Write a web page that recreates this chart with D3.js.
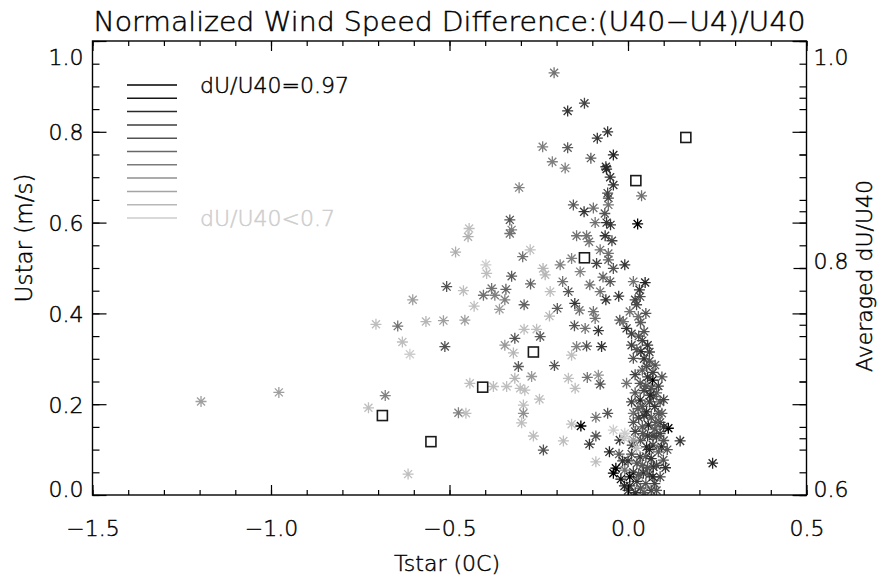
<!DOCTYPE html>
<html>
<head>
<meta charset="utf-8">
<script src="https://cdn.jsdelivr.net/npm/d3@7"></script>
<style>
  body { margin: 0; background: #fff; }
  svg { display: block; }
  svg text { font-weight: 200; stroke-width: 0.45px; }
</style>
</head>
<body>
<svg id="chart" width="878" height="581"></svg>
<script>
// Individual samples: [Tstar (C), Ustar (m/s), dU/U40]
const stars = [
  [-1.196,0.206,0.76],[-0.978,0.226,0.76],[-0.706,0.376,0.72],[-0.645,0.372,0.82],
  [-0.727,0.192,0.72],[-0.680,0.219,0.80],[-0.632,0.337,0.72],[-0.616,0.046,0.72],
  [-0.483,0.535,0.74],[-0.295,0.525,0.82],[-0.274,0.540,0.72],[-0.398,0.507,0.68],
  [-0.396,0.488,0.72],[-0.238,0.499,0.73],[-0.232,0.485,0.73],[-0.190,0.507,0.80],
  [-0.158,0.521,0.80],[-0.134,0.492,0.80],[-0.088,0.510,0.88],[-0.055,0.532,0.82],
  [-0.055,0.518,0.84],[-0.041,0.499,0.86],[-0.009,0.507,0.90],[-0.078,0.540,0.82],
  [-0.109,0.558,0.82],[-0.508,0.459,0.86],[-0.461,0.450,0.72],[-0.603,0.430,0.76],
  [-0.566,0.382,0.73],[-0.517,0.384,0.76],[-0.457,0.385,0.76],[-0.611,0.310,0.70],
  [-0.513,0.327,0.86],[-0.431,0.416,0.72],[-0.405,0.440,0.82],[-0.382,0.455,0.82],
  [-0.373,0.440,0.80],[-0.342,0.453,0.84],[-0.345,0.430,0.80],[-0.360,0.409,0.76],
  [-0.326,0.482,0.85],[-0.273,0.465,0.84],[-0.291,0.419,0.84],[-0.218,0.448,0.72],
  [-0.183,0.470,0.82],[-0.167,0.448,0.86],[-0.198,0.411,0.85],[-0.220,0.394,0.73],
  [-0.149,0.422,0.90],[-0.136,0.407,0.82],[-0.107,0.463,0.82],[-0.078,0.448,0.82],
  [-0.062,0.430,0.90],[-0.026,0.438,0.90],[-0.097,0.404,0.82],[-0.092,0.389,0.82],
  [-0.120,0.367,0.82],[-0.150,0.373,0.86],[-0.083,0.362,0.90],[-0.023,0.385,0.86],
  [-0.004,0.367,0.90],[-0.013,0.382,0.82],[0.015,0.470,0.82],[0.048,0.468,0.92],
  [0.032,0.452,0.90],[0.034,0.437,0.87],[0.024,0.419,0.87],[0.029,0.393,0.82],
  [0.005,0.404,0.82],[-0.317,0.345,0.86],[-0.345,0.330,0.77],[-0.291,0.365,0.72],
  [-0.256,0.365,0.72],[-0.246,0.349,0.85],[-0.321,0.313,0.73],[-0.307,0.283,0.85],
  [-0.206,0.285,0.86],[-0.158,0.308,0.72],[-0.144,0.327,0.80],[-0.116,0.328,0.86],
  [-0.074,0.327,0.90],[-0.317,0.257,0.73],[-0.270,0.261,0.77],[-0.443,0.246,0.72],
  [-0.377,0.239,0.72],[-0.340,0.239,0.72],[-0.302,0.235,0.72],[-0.289,0.231,0.72],
  [-0.248,0.211,0.72],[-0.167,0.257,0.72],[-0.148,0.235,0.72],[-0.114,0.259,0.82],
  [-0.083,0.264,0.78],[-0.078,0.244,0.86],[-0.475,0.181,0.80],[-0.454,0.180,0.72],
  [-0.293,0.198,0.72],[-0.293,0.180,0.78],[-0.298,0.159,0.72],[-0.265,0.130,0.72],
  [-0.237,0.099,0.86],[-0.181,0.119,0.72],[-0.158,0.156,0.72],[-0.132,0.152,0.97],
  [-0.090,0.171,0.82],[-0.057,0.180,0.86],[-0.108,0.112,0.90],[-0.090,0.130,0.86],
  [-0.090,0.073,0.72],[-0.052,0.095,0.92],[0.113,0.147,0.97],[0.146,0.119,0.90],
  [0.237,0.070,0.92],[0.069,0.253,0.97],[0.036,0.316,0.92],[0.015,0.301,0.86],
  [0.076,0.286,0.86],[0.052,0.283,0.87],[-0.004,0.246,0.82],[0.034,0.246,0.86],
  [0.071,0.217,0.86],[0.034,0.209,0.92],[0.015,0.180,0.82],[0.052,0.183,0.92],
  [0.085,0.180,0.86],[0.057,0.154,0.92],[0.080,0.128,0.86],[0.094,0.106,0.92],
  [0.099,0.077,0.86],[0.052,0.106,0.92],[-0.023,0.121,0.90],[0.034,0.084,0.90],
  [0.071,0.062,0.92],[0.043,0.048,0.90],[-0.009,0.055,0.82],
  [0.010,0.330,0.88],[0.025,0.320,0.86],[0.045,0.300,0.90],[0.060,0.295,0.86],
  [0.040,0.275,0.85],[0.020,0.265,0.88],[0.055,0.260,0.90],[0.065,0.235,0.86],
  [0.045,0.230,0.88],[0.020,0.225,0.86],[0.080,0.225,0.85],[0.060,0.205,0.88],
  [0.040,0.195,0.86],[0.075,0.195,0.90],[0.090,0.205,0.85],[0.030,0.170,0.88],
  [0.065,0.170,0.86],[0.090,0.160,0.88],[0.040,0.150,0.86],[0.075,0.145,0.85],
  [0.020,0.140,0.88],[0.055,0.130,0.90],[0.035,0.120,0.86],[0.070,0.110,0.88],
  [0.085,0.095,0.85],[0.010,0.090,0.88],[0.050,0.085,0.86],[0.065,0.080,0.90],
  [0.025,0.070,0.86],[0.080,0.065,0.88],[0.000,0.075,0.90],[0.040,0.065,0.85],
  [0.015,0.050,0.88],[0.060,0.045,0.86],[0.090,0.040,0.88],[0.025,0.030,0.90],
  [0.050,0.025,0.86],[0.075,0.025,0.88],[0.005,0.020,0.92],[0.035,0.015,0.86],
  [0.065,0.010,0.88],[0.000,0.010,0.88],[0.045,0.005,0.85],[0.100,0.120,0.86],
  [0.095,0.180,0.85],[0.050,0.240,0.86],[0.070,0.270,0.88],[0.030,0.350,0.86],
  [0.010,0.355,0.88],
  [0.040,0.340,0.88],[0.055,0.330,0.90],[0.045,0.360,0.86],[0.060,0.315,0.88],
  [0.035,0.380,0.85],[0.050,0.400,0.86],[0.020,0.430,0.88],
  [0.085,0.240,0.88],[0.095,0.260,0.86],[0.100,0.150,0.90],[0.110,0.100,0.86],
  [0.105,0.060,0.90],[0.080,0.010,0.86],[0.020,0.005,0.90],[-0.010,0.020,0.92],
  [-0.025,0.090,0.86],[0.012,0.110,0.90],[0.060,0.100,0.92],[0.045,0.175,0.90],
  [0.070,0.130,0.88],[0.028,0.190,0.85],[0.010,0.205,0.88],[0.062,0.220,0.92],
  [0.078,0.160,0.86],[0.042,0.135,0.86],[0.090,0.135,0.88],[0.030,0.045,0.86],
  [0.070,0.040,0.92],[0.055,0.060,0.86],[0.015,0.160,0.86],[0.100,0.210,0.88],
  [-0.050,0.470,0.86],[-0.045,0.560,0.88],[-0.065,0.620,0.86],[-0.050,0.700,0.90],
  [-0.070,0.480,0.84],
  [-0.041,0.143,0.70],[-0.009,0.136,0.70],[0.024,0.103,0.72],[0.015,0.121,0.76],
  [-0.010,0.125,0.70],
  [-0.020,0.035,0.95],[-0.015,0.075,0.90],[-0.034,0.059,0.97],[0.005,0.040,0.97],
  [-0.041,0.048,0.97],
  [-0.207,0.930,0.82],[-0.169,0.846,0.90],[-0.122,0.863,0.88],[-0.086,0.786,0.90],
  [-0.057,0.800,0.90],[-0.239,0.767,0.80],[-0.169,0.765,0.85],[-0.212,0.734,0.80],
  [-0.176,0.720,0.80],[-0.104,0.742,0.85],[-0.041,0.749,0.92],[-0.062,0.723,0.90],
  [-0.060,0.718,0.92],[-0.305,0.677,0.80],[-0.041,0.683,0.90],[0.038,0.659,0.82],
  [-0.057,0.665,0.88],[-0.055,0.654,0.88],[-0.055,0.639,0.82],[-0.153,0.639,0.85],
  [-0.123,0.624,0.90],[-0.097,0.632,0.82],[0.027,0.597,0.97],[-0.092,0.600,0.82],
  [-0.060,0.600,0.90],[-0.049,0.595,0.90],[-0.064,0.571,0.90],[-0.144,0.571,0.82],
  [-0.116,0.571,0.82],[-0.331,0.606,0.86],[-0.326,0.584,0.80],[-0.331,0.576,0.82],
  [-0.445,0.587,0.72],[-0.448,0.569,0.74]
];

// Tstar bin centres and the mean dU/U40 in each bin (right-hand axis)
const binTstar = [-0.688, -0.552, -0.407, -0.265, -0.122, 0.022, 0.162];
const binAvgRatio = [0.670, 0.647, 0.695, 0.726, 0.809, 0.877, 0.915];

// Grey-level key, darkest to lightest
const legendLevels = [0.97, 0.943, 0.916, 0.889, 0.862, 0.835, 0.808, 0.781, 0.754, 0.727, 0.70];
const legendLabels = ["dU/U40=0.97", "dU/U40<0.7"];

const xMajor = [-1.5, -1.0, -0.5, 0.0, 0.5];
const yMajor = [0.0, 0.2, 0.4, 0.6, 0.8, 1.0];
const rMajor = [0.6, 0.8, 1.0];

const titleText = "Normalized Wind Speed Difference:(U40\u2212U4)/U40";
const xTitle = "Tstar (0C)";
const yTitle = "Ustar (m/s)";
const rTitle = "Averaged dU/U40";

// ---- layout ----
const L = 92.5, R = 806.5, T = 41, B = 495;
const FONT = "'DejaVu Sans', sans-serif";

const svg = d3.select("#chart");

const x = d3.scaleLinear().domain([-1.5, 0.5]).range([L, R]);
const y = d3.scaleLinear().domain([0, 1]).range([B, T]);
const yR = d3.scaleLinear().domain([0.6, 1.0]).range([B, T]);

const shade = d3.scaleLinear().domain([0.70, 0.97]).range([205, 0]).clamp(true);
const grey = v => { const g = Math.round(shade(v)); return `rgb(${g},${g},${g})`; };

const xMinor = d3.range(0, 21).map(i => -1.5 + i * 0.1);
const yMinor = d3.range(0, 21).map(i => i * 0.05);
const rMinor = d3.range(0, 9).map(i => 0.6 + i * 0.05);

// ---- clipped plotting area ----
svg.append("clipPath").attr("id", "plotClip")
  .append("rect").attr("x", L).attr("y", T).attr("width", R - L).attr("height", B - T);

const plot = svg.append("g").attr("clip-path", "url(#plotClip)");

// asterisk symbol
const arm = 5.5, diag = 4;
plot.selectAll("path.star")
  .data(stars)
  .join("path")
  .attr("class", "star")
  .attr("d", d => {
    const cx = x(d[0]), cy = y(d[1]);
    return `M${cx - arm},${cy}L${cx + arm},${cy}` +
           `M${cx},${cy - arm}L${cx},${cy + arm}` +
           `M${cx - diag},${cy - diag}L${cx + diag},${cy + diag}` +
           `M${cx - diag},${cy + diag}L${cx + diag},${cy - diag}`;
  })
  .attr("fill", "none")
  .attr("stroke", d => grey(d[2]))
  .attr("stroke-width", 1.3);

// bin averages as open squares on the right-hand scale
const sq = 10;
plot.selectAll("rect.avg")
  .data(binTstar.map((t, i) => [t, binAvgRatio[i]]))
  .join("rect")
  .attr("class", "avg")
  .attr("x", d => x(d[0]) - sq / 2)
  .attr("y", d => yR(d[1]) - sq / 2)
  .attr("width", sq).attr("height", sq)
  .attr("fill", "none")
  .attr("stroke", "#1a1a1a")
  .attr("stroke-width", 1.6);

// ---- axes ----
function styleAxis(g) {
  g.select(".domain").remove();
  g.selectAll("line").attr("stroke", "#000").attr("stroke-width", 1.2);
  g.attr("font-family", FONT).attr("font-size", 22);
  g.selectAll("text").attr("fill", "#000").attr("stroke", "#000");
}

// bottom
svg.append("g").attr("transform", `translate(0,${B})`)
  .call(d3.axisBottom(x).tickValues(xMinor).tickSize(-5).tickFormat(""))
  .call(styleAxis);
svg.append("g").attr("transform", `translate(0,${B})`)
  .call(d3.axisBottom(x).tickValues(xMajor).tickSize(-10).tickPadding(25).tickFormat(d3.format(".1f")))
  .call(styleAxis);
// top (ticks only)
svg.append("g").attr("transform", `translate(0,${T})`)
  .call(d3.axisTop(x).tickValues(xMinor).tickSize(-5).tickFormat(""))
  .call(styleAxis);
svg.append("g").attr("transform", `translate(0,${T})`)
  .call(d3.axisTop(x).tickValues(xMajor).tickSize(-10).tickFormat(""))
  .call(styleAxis);

// left
svg.append("g").attr("transform", `translate(${L},0)`)
  .call(d3.axisLeft(y).tickValues(yMinor).tickSize(-7).tickFormat(""))
  .call(styleAxis);
const leftMajor = svg.append("g").attr("transform", `translate(${L},0)`)
  .call(d3.axisLeft(y).tickValues(yMajor).tickSize(-14).tickPadding(9).tickFormat(d3.format(".1f")))
  .call(styleAxis);
leftMajor.selectAll(".tick text")
  .attr("dy", d => d === 1.0 ? "1.05em" : d === 0 ? "0.05em" : "0.36em");

// right: mirrored left-scale ticks
svg.append("g").attr("transform", `translate(${R},0)`)
  .call(d3.axisRight(y).tickValues(yMinor).tickSize(-7).tickFormat(""))
  .call(styleAxis);
svg.append("g").attr("transform", `translate(${R},0)`)
  .call(d3.axisRight(y).tickValues(yMajor).tickSize(-14).tickFormat(""))
  .call(styleAxis);
// right: averaged dU/U40 scale
svg.append("g").attr("transform", `translate(${R},0)`)
  .call(d3.axisRight(yR).tickValues(rMinor).tickSize(-7).tickFormat(""))
  .call(styleAxis);
const rightMajor = svg.append("g").attr("transform", `translate(${R},0)`)
  .call(d3.axisRight(yR).tickValues(rMajor).tickSize(-13).tickPadding(7).tickFormat(d3.format(".1f")))
  .call(styleAxis);
rightMajor.selectAll(".tick text")
  .attr("dy", d => d === 1.0 ? "1.05em" : d === 0.6 ? "0.05em" : "0.0em");

// frame
svg.append("rect")
  .attr("x", L).attr("y", T).attr("width", R - L).attr("height", B - T)
  .attr("fill", "none").attr("stroke", "#000").attr("stroke-width", 1.4);

// ---- titles ----
function label(sel, size) {
  return sel.attr("font-family", FONT).attr("font-size", size)
    .attr("fill", "#000").attr("stroke", "#000");
}

svg.append("text")
  .attr("x", (L + R) / 2).attr("y", 31)
  .attr("text-anchor", "middle")
  .call(label, 27)
  .attr("textLength", 712).attr("lengthAdjust", "spacingAndGlyphs")
  .text(titleText);

svg.append("text")
  .attr("x", 447).attr("y", 571)
  .attr("text-anchor", "middle")
  .call(label, 22)
  .text(xTitle);

svg.append("text")
  .attr("transform", "translate(32,238) rotate(-90)")
  .attr("text-anchor", "middle")
  .call(label, 23)
  .text(yTitle);

svg.append("text")
  .attr("transform", "translate(872,276) rotate(-90)")
  .attr("text-anchor", "middle")
  .call(label, 22)
  .text(rTitle);

// ---- grey-level key ----
const key = svg.append("g");
const keyY0 = 85, keyStep = 13.3;
key.selectAll("line")
  .data(legendLevels)
  .join("line")
  .attr("x1", 127).attr("x2", 177)
  .attr("y1", (d, i) => keyY0 + i * keyStep)
  .attr("y2", (d, i) => keyY0 + i * keyStep)
  .attr("stroke", d => grey(d))
  .attr("stroke-width", 1.5);

key.selectAll("text")
  .data([legendLevels[0], legendLevels[legendLevels.length - 1]])
  .join("text")
  .attr("x", 200)
  .attr("y", (d, i) => keyY0 + (i === 0 ? 0 : (legendLevels.length - 1) * keyStep))
  .attr("dy", "0.36em")
  .attr("font-family", FONT).attr("font-size", 22)
  .attr("fill", d => d >= 0.97 ? "#000" : grey(d))
  .attr("stroke", d => d >= 0.97 ? "#000" : grey(d))
  .text((d, i) => legendLabels[i]);
</script>
</body>
</html>
